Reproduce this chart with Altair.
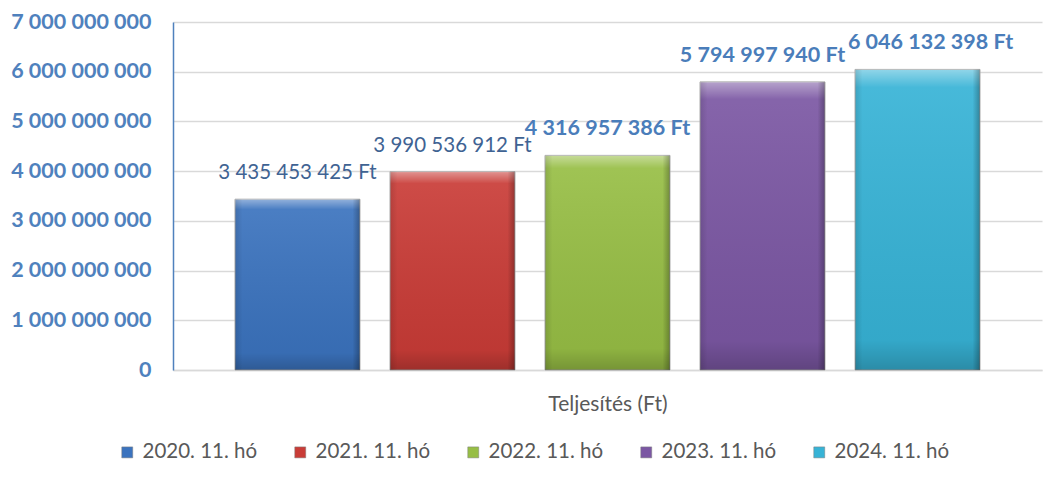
import altair as alt
import pandas as pd

series = ["2020. 11. hó", "2021. 11. hó", "2022. 11. hó", "2023. 11. hó", "2024. 11. hó"]
values = [3435453425, 3990536912, 4316957386, 5794997940, 6046132398]
colors = ["#3B73BE", "#C93C37", "#97BE45", "#7B57A3", "#37B3D6"]
bold_label = [False, False, True, True, True]
y_ticks = [0, 1e9, 2e9, 3e9, 4e9, 5e9, 6e9, 7e9]


def fmt(v):
    return f"{v:,}".replace(",", " ") + " Ft"


df = pd.DataFrame({
    "series": series,
    "value": values,
    "label": [fmt(v) for v in values],
    "bold": bold_label,
})

FONT = "Lato"
LAST = series[-1]

x = alt.X("series:N", sort=series,
          scale=alt.Scale(paddingInner=0.194, paddingOuter=0.4),
          axis=alt.Axis(title="Teljesítés (Ft)", labels=False, ticks=False,
                        domainColor="#D9D9D9", domainWidth=1.5,
                        titleFont=FONT, titleFontSize=21, titleFontWeight="normal",
                        titleColor="#595959", titlePadding=23))
y = alt.Y("value:Q",
          scale=alt.Scale(domain=[0, 7e9], nice=False),
          axis=alt.Axis(title=None, values=y_ticks, grid=True, gridColor="#D9D9D9",
                        gridWidth=1.5, ticks=False, domainColor="#4F81BD", domainWidth=1.5,
                        labelExpr="replace(format(datum.value, ','), /,/g, ' ')",
                        labelFont=FONT, labelFontSize=21.5, labelFontWeight="bold",
                        labelColor="#4F81BD", labelPadding=22))

base = alt.Chart(df)

bars = base.mark_bar(stroke="#A6A6A6", strokeWidth=1).encode(
    x=x, y=y,
    color=alt.Color("series:N", sort=series,
                    scale=alt.Scale(domain=series, range=colors),
                    legend=alt.Legend(title=None, orient="none", direction="horizontal",
                                      legendX=-56, legendY=420,
                                      symbolType="square", symbolSize=120,
                                      symbolStrokeColor="#7F7F7F", symbolStrokeWidth=0.5,
                                      labelFont=FONT, labelFontSize=20.5, labelColor="#595959",
                                      labelOffset=5, columnPadding=32)),
)

shade_v = base.mark_bar(
    fill=alt.Gradient(gradient="linear", x1=0, y1=0, x2=0, y2=1, stops=[
        alt.GradientStop(offset=0, color="rgba(255,255,255,0.45)"),
        alt.GradientStop(offset=0.06, color="rgba(255,255,255,0.08)"),
        alt.GradientStop(offset=0.9, color="rgba(0,0,0,0.06)"),
        alt.GradientStop(offset=1, color="rgba(0,0,0,0.22)"),
    ])
).encode(x=x, y=y)

shade_h = base.mark_bar(
    fill=alt.Gradient(gradient="linear", x1=0, y1=0, x2=1, y2=0, stops=[
        alt.GradientStop(offset=0, color="rgba(0,0,0,0.12)"),
        alt.GradientStop(offset=0.06, color="rgba(0,0,0,0.0)"),
        alt.GradientStop(offset=0.94, color="rgba(0,0,0,0.0)"),
        alt.GradientStop(offset=1, color="rgba(0,0,0,0.28)"),
    ])
).encode(x=x, y=y)

labels_normal = base.transform_filter("!datum.bold").mark_text(
    font=FONT, fontSize=20.5, fontWeight="normal", color="#3F6393",
    baseline="middle", dy=-26
).encode(x=x, y=y, text="label:N")

labels_bold = base.transform_filter(
    f"datum.bold && datum.series != '{LAST}'"
).mark_text(
    font=FONT, fontSize=21.5, fontWeight="bold", color="#4A7DBA",
    baseline="middle", dy=-26
).encode(x=x, y=y, text="label:N")

labels_last = base.transform_filter(
    f"datum.series == '{LAST}'"
).mark_text(
    font=FONT, fontSize=21.5, fontWeight="bold", color="#4A7DBA",
    baseline="middle", dy=-26, dx=13
).encode(x=x, y=y, text="label:N")

chart = alt.layer(bars, shade_v, shade_h, labels_normal, labels_bold, labels_last).properties(
    width=869, height=348,
    autosize=alt.AutoSizeParams(type="none"),
    padding={"left": 165, "top": 14, "right": 6, "bottom": 113},
).configure_view(stroke=None)

chart.save("out.html", embed_options={"renderer": "svg", "actions": False})
